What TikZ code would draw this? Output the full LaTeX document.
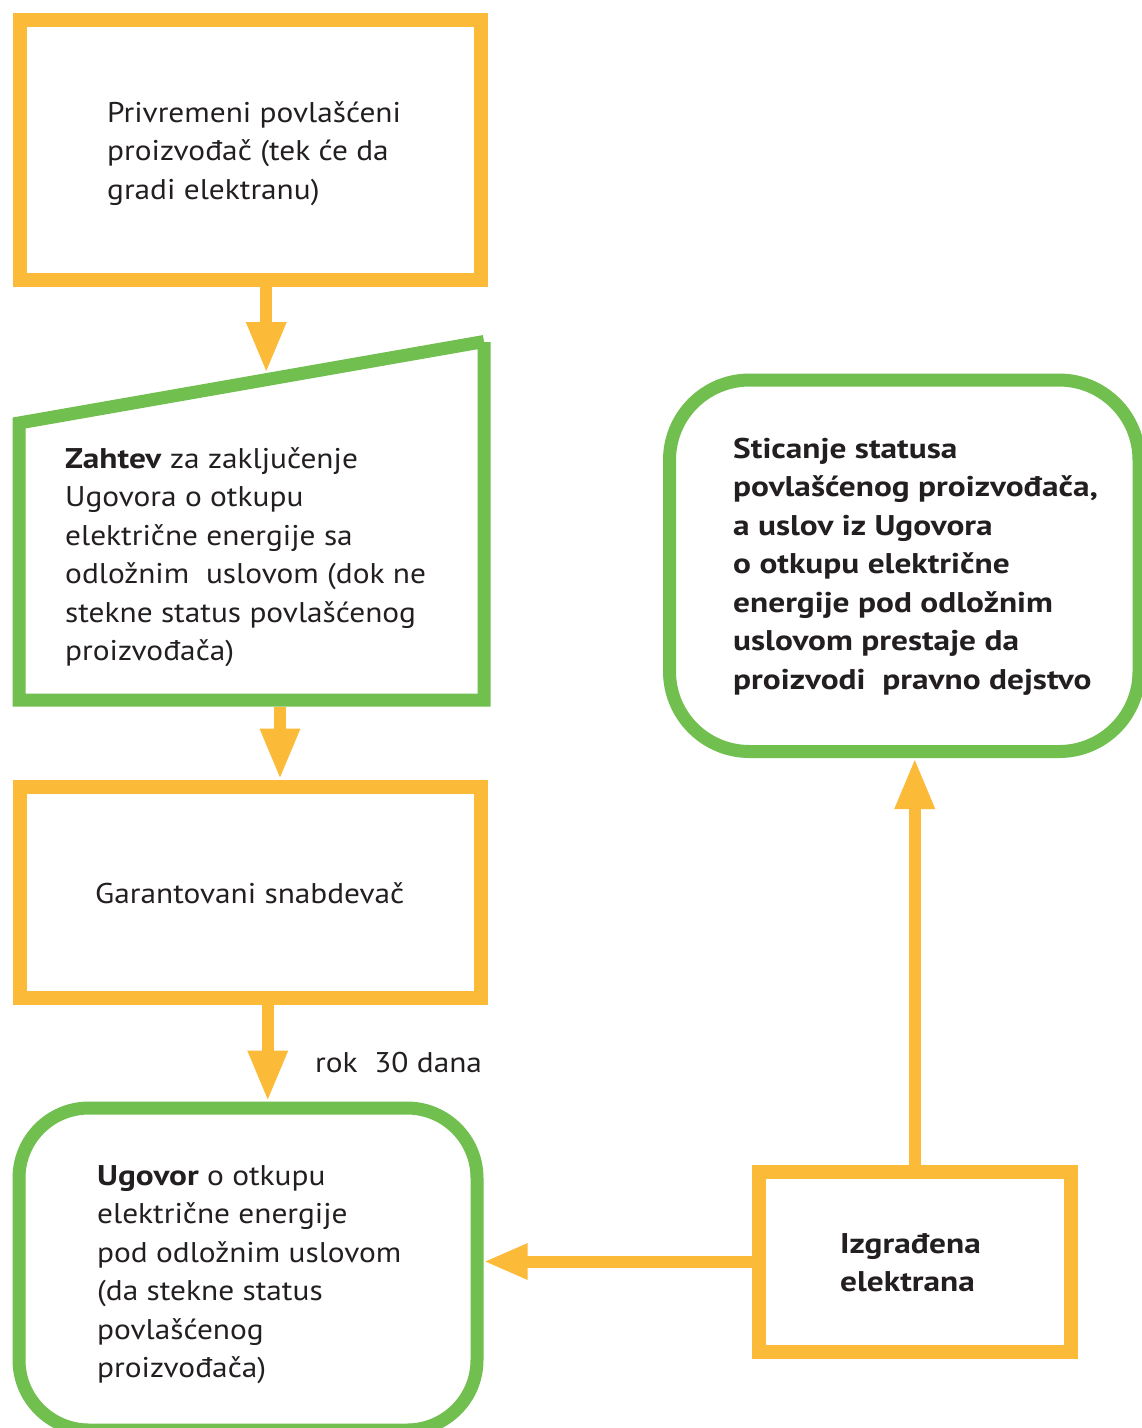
\documentclass[tikz,border=0pt]{standalone}
\usepackage{fontspec}
\setmainfont{PT Sans}[FakeStretch=1.10, BoldFeatures={FakeStretch=1.17}]
\usetikzlibrary{arrows.meta}
\definecolor{orng}{HTML}{FCBA39}
\definecolor{grn}{HTML}{71BF4F}
\definecolor{ink}{HTML}{231F20}
\newcommand\mylines[1]{\parbox[t]{480pt}{\raggedright\fontsize{28.5pt}{38.5pt}\selectfont #1}}
\begin{document}
\begin{tikzpicture}[x=1pt,y=-1pt,
  obox/.style={draw=orng, line width=14pt, rectangle, inner sep=0pt, outer sep=7pt},
  gbox/.style={draw=grn, line width=13pt, rectangle, rounded corners=#1, inner sep=0pt, outer sep=6.5pt},
  gline/.style={draw=grn, line width=13pt, line join=miter},
  flow/.style={draw=orng, line width=12pt, -{Triangle[length=51pt,width=37pt]}},
  flowh/.style={draw=orng, line width=12pt, -{Triangle[length=44pt,width=33pt]}},
  txt/.style={anchor=base west, inner sep=0pt, text=ink}]
\useasboundingbox (0,0) rectangle (1142,1428);
\clip (0,0) rectangle (1142,1428);
\fill[white] (0,0) rectangle (1142,1428);

% boxes
\node[obox, minimum width=461.5pt, minimum height=260pt] (top) at (250.25,149.5) {};
\node[draw=none, minimum width=465pt, minimum height=358pt, inner sep=0pt, outer sep=6.5pt] (req) at (251.5,521) {};
\draw[gline] (484,342) -- (484,700) -- (19,700) -- (19,423) -- (484,341.5);
\coordinate (reqtop) at (266.25,373);
\node[obox, minimum width=461.5pt, minimum height=211pt] (sup) at (250.25,892) {};
\node[gbox=70pt, minimum width=458pt, minimum height=322pt] (ugov) at (248,1269) {};
\node[obox, minimum width=312.5pt, minimum height=180pt] (izg) at (914.75,1261.5) {};
\node[gbox=80pt, minimum width=469.5pt, minimum height=371.5pt] (stat) at (904.25,565.75) {};

% connectors
\draw[flow] ([xshift=16pt]top.south) -- (reqtop);
\draw[flow] ([xshift=28.5pt]req.south) -- ([xshift=29.75pt]sup.north);
\draw[flow] ([xshift=17.5pt]sup.south) -- ([xshift=17.5pt]sup.south |- ugov.north);
\draw[flow] (izg.north) -- (izg.north |- stat.south);
\draw[flowh] (izg.west) -- (izg.west -| ugov.east);

% texts
\node[txt] (t1) at (107,122) {\mylines{Privremeni povlašćeni\\proizvođač (tek će da\\gradi elektranu)}};
\node[txt] (t2) at (65,468) {\mylines{\textbf{Zahtev} za zaključenje\\Ugovora o otkupu\\električne energije sa\\odložnim\ \ uslovom (dok ne\\stekne status povlašćenog\\proizvođača)}};
\node[txt] (t3) at (95,903) {\mylines{Garantovani snabdevač}};
\node[txt] (t4) at (315,1072) {\mylines{rok\ \ 30 dana}};
\node[txt] (t5) at (97,1185) {\mylines{\textbf{Ugovor} o otkupu\\električne energije\\pod odložnim uslovom\\(da stekne status\\povlašćenog\\proizvođača)}};
\node[txt] (t6) at (840,1253) {\mylines{\bfseries Izgrađena\\elektrana}};
\node[txt] (t7) at (733,458) {\mylines{\bfseries Sticanje statusa\\povlašćenog proizvođača,\\a uslov iz Ugovora\\o otkupu električne\\energije pod odložnim\\uslovom prestaje da\\proizvodi\ \ pravno dejstvo}};
\end{tikzpicture}
\end{document}
